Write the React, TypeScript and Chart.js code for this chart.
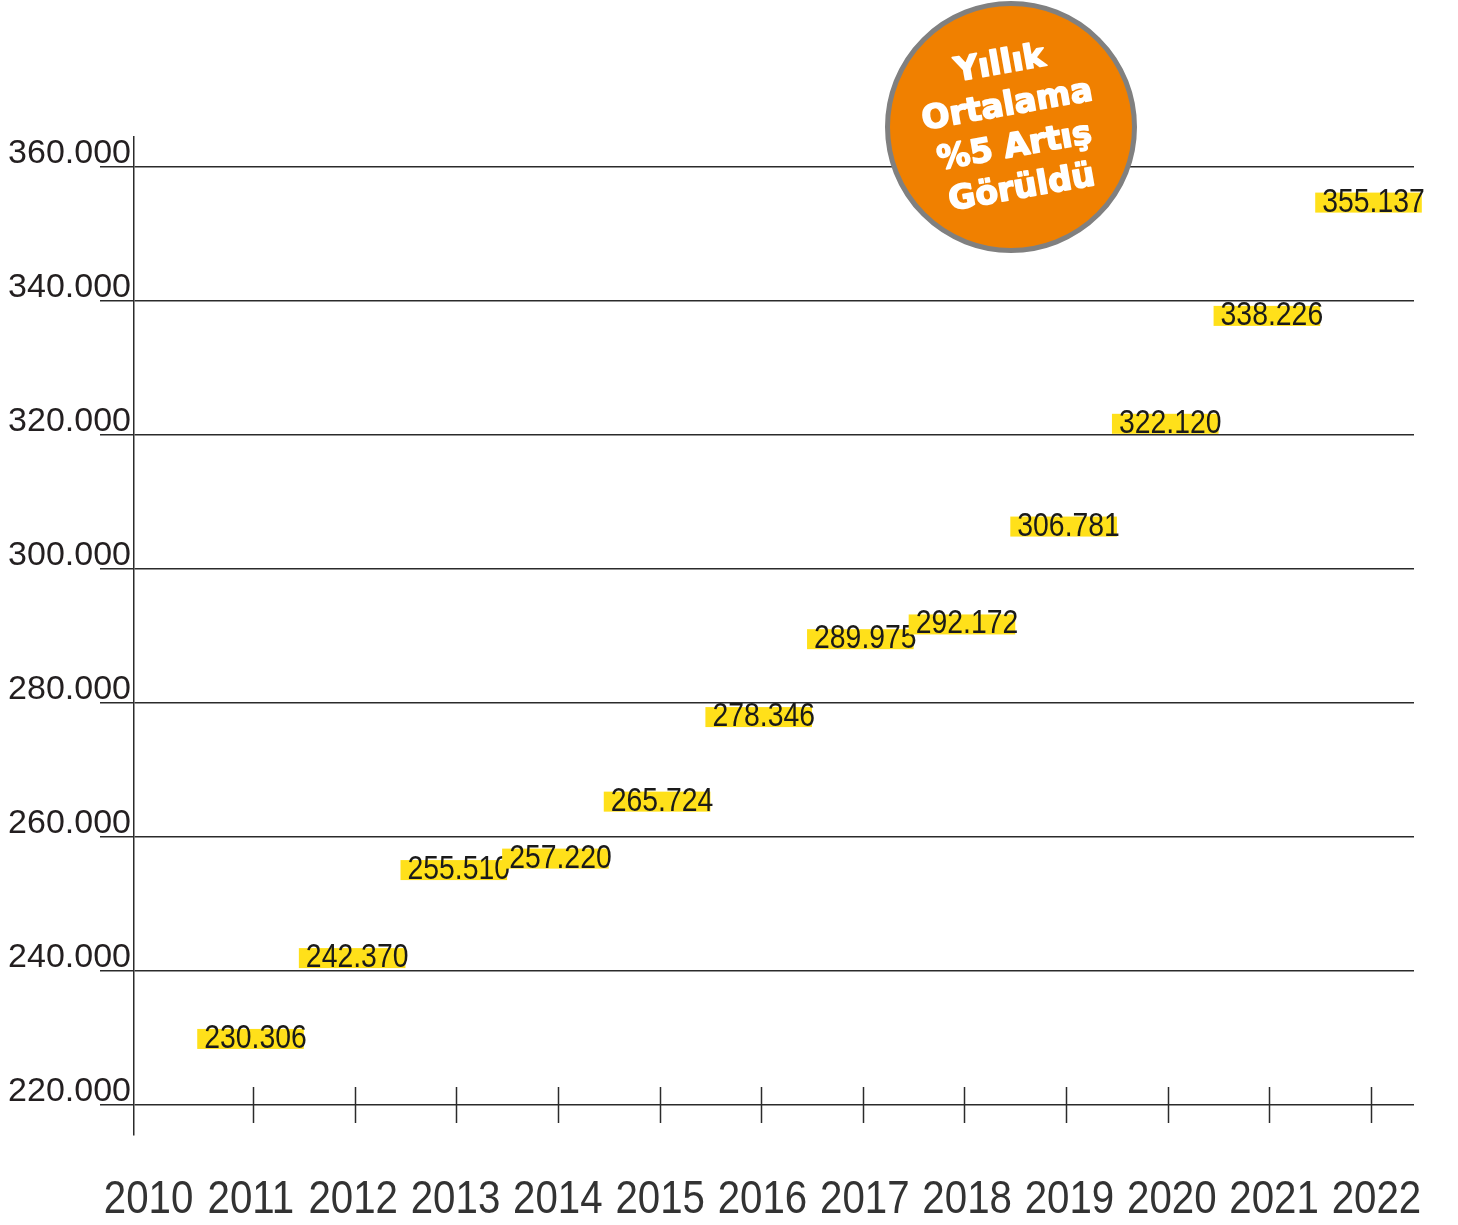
import { useEffect, useRef } from "react";
import { Chart, registerables } from "chart.js";

Chart.register(...registerables);

// ---- data ----
const yearLabels = [2010, 2011, 2012, 2013, 2014, 2015, 2016, 2017, 2018, 2019, 2020, 2021, 2022];
const valueYears = [2011, 2012, 2013, 2014, 2015, 2016, 2017, 2018, 2019, 2020, 2021, 2022];
const values = [230306, 242370, 255510, 257220, 265724, 278346, 289975, 292172, 306781, 322120, 338226, 355137];
const yTickValues = [220000, 240000, 260000, 280000, 300000, 320000, 340000, 360000];
const badgeLines = ["Yıllık", "Ortalama", "%5 Artış", "Görüldü"];

const LINE = "#2b2b2b";
const SANS = "'Liberation Sans', Arial, Helvetica, sans-serif";

function fmt(v: number): string {
  const k = Math.floor(v / 1000);
  const r = Math.round(v - k * 1000);
  return `${k}.${String(r).padStart(3, "0")}`;
}

const tickMarksPlugin = {
  id: "tickMarks",
  afterDatasetsDraw(chart: any) {
    const { ctx } = chart;
    const xs = chart.scales.x;
    const ys = chart.scales.y;
    const y0 = ys.getPixelForValue(yTickValues[0]);
    ctx.save();
    ctx.strokeStyle = LINE;
    ctx.lineWidth = 1.5;
    valueYears.forEach((yr) => {
      const x = Math.round(xs.getPixelForValue(yr)) + 0.5;
      ctx.beginPath();
      ctx.moveTo(x, y0 - 18);
      ctx.lineTo(x, y0 + 18);
      ctx.stroke();
    });
    ctx.restore();
  },
};

// year labels under the axis, drawn at the label scale's positions (condensed look)
const yearLabelsPlugin = {
  id: "yearLabels",
  afterDraw(chart: any) {
    const { ctx } = chart;
    const xl = chart.scales.xl;
    const sx = 0.875;
    const baseline = xl.top + 78;
    ctx.save();
    ctx.font = `46px ${SANS}`;
    ctx.fillStyle = "#333333";
    ctx.textAlign = "center";
    ctx.textBaseline = "alphabetic";
    yearLabels.forEach((yr) => {
      const x = xl.getPixelForValue(yr);
      ctx.save();
      ctx.translate(x, baseline);
      ctx.scale(sx, 1);
      ctx.fillText(String(yr), 0, 0);
      ctx.restore();
    });
    ctx.restore();
  },
};

const valueLabelsPlugin = {
  id: "valueLabels",
  afterDatasetsDraw(chart: any) {
    const { ctx } = chart;
    const meta = chart.getDatasetMeta(0);
    ctx.save();
    ctx.font = `33px ${SANS}`;
    const sx = 0.86;
    meta.data.forEach((el: any, i: number) => {
      const text = fmt(values[i]);
      const w = ctx.measureText(text).width * sx;
      const cx = el.x + 2.5;
      const baseline = el.y + 12;
      const left = cx - w / 2;
      ctx.fillStyle = "#ffe01a";
      ctx.fillRect(left - 7, baseline - 19, w + 4, 20);
      ctx.save();
      ctx.translate(cx, baseline);
      ctx.scale(sx, 1);
      ctx.textAlign = "center";
      ctx.textBaseline = "alphabetic";
      ctx.fillStyle = "#1a1a1a";
      ctx.fillText(text, 0, 0);
      ctx.restore();
    });
    ctx.restore();
  },
};

const badgePlugin = {
  id: "badge",
  afterDraw(chart: any) {
    const { ctx } = chart;
    const cx = 1011;
    const cy = 127;
    ctx.save();
    ctx.beginPath();
    ctx.arc(cx, cy, 123.5, 0, Math.PI * 2);
    ctx.fillStyle = "#f08000";
    ctx.fill();
    ctx.lineWidth = 5;
    ctx.strokeStyle = "#808080";
    ctx.stroke();
    ctx.translate(cx, cy);
    ctx.rotate((-10 * Math.PI) / 180);
    ctx.fillStyle = "#ffffff";
    ctx.strokeStyle = "#ffffff";
    ctx.lineWidth = 1.6;
    ctx.lineJoin = "round";
    ctx.font = `bold 33px 'DejaVu Sans', 'Liberation Sans', sans-serif`;
    ctx.textAlign = "center";
    ctx.textBaseline = "middle";
    const spacing = 42;
    badgeLines.forEach((line, i) => {
      ctx.fillText(line, 0, (i - 1.5) * spacing);
      ctx.strokeText(line, 0, (i - 1.5) * spacing);
    });
    ctx.restore();
  },
};

export default function App() {
  const ref = useRef<HTMLCanvasElement>(null);

  useEffect(() => {
    if (!ref.current) return;
    const chart = new Chart(ref.current, {
      type: "scatter",
      data: {
        datasets: [
          {
            data: valueYears.map((yr, i) => ({ x: yr, y: values[i] })),
            xAxisID: "x",
            yAxisID: "y",
            showLine: false,
            pointRadius: 0,
            pointHoverRadius: 0,
          },
        ],
      },
      options: {
        responsive: false,
        animation: false,
        devicePixelRatio: 1,
        layout: { padding: { top: 137, right: 44, left: 0, bottom: 0 } },
        plugins: { legend: { display: false }, tooltip: { enabled: false } },
        scales: {
          x: {
            type: "linear",
            display: false,
            min: 2009.829,
            max: 2022.423,
          },
          xl: {
            type: "linear",
            position: "bottom",
            min: 2009.858,
            max: 2022.367,
            grid: { display: false },
            border: { display: false },
            afterBuildTicks: (s: any) => {
              s.ticks = yearLabels.map((v) => ({ value: v }));
            },
            afterFit: (s: any) => {
              s.height = 90;
            },
            ticks: { display: false },
          },
          y: {
            type: "linear",
            position: "left",
            min: 215520,
            max: 364480,
            afterBuildTicks: (s: any) => {
              s.ticks = yTickValues.map((v) => ({ value: v }));
            },
            afterFit: (s: any) => {
              s.width = 134;
            },
            grid: { color: LINE, lineWidth: 1.5, drawTicks: true, tickLength: 34, tickColor: LINE },
            border: { display: true, color: LINE, width: 1.5 },
            ticks: {
              autoSkip: false,
              padding: -31,
              labelOffset: -13,
              color: "#231f20",
              font: { family: SANS, size: 34 },
              callback: (v: any) => fmt(Number(v)),
            },
          },
        },
      },
      plugins: [tickMarksPlugin, valueLabelsPlugin, yearLabelsPlugin, badgePlugin],
    } as any);
    return () => chart.destroy();
  }, []);

  return (
    <div style={{ position: "absolute", left: 0, top: 0, width: 1458, height: 1225, background: "#ffffff" }}>
      <canvas ref={ref} width={1458} height={1225} style={{ display: "block", width: 1458, height: 1225 }} />
    </div>
  );
}
